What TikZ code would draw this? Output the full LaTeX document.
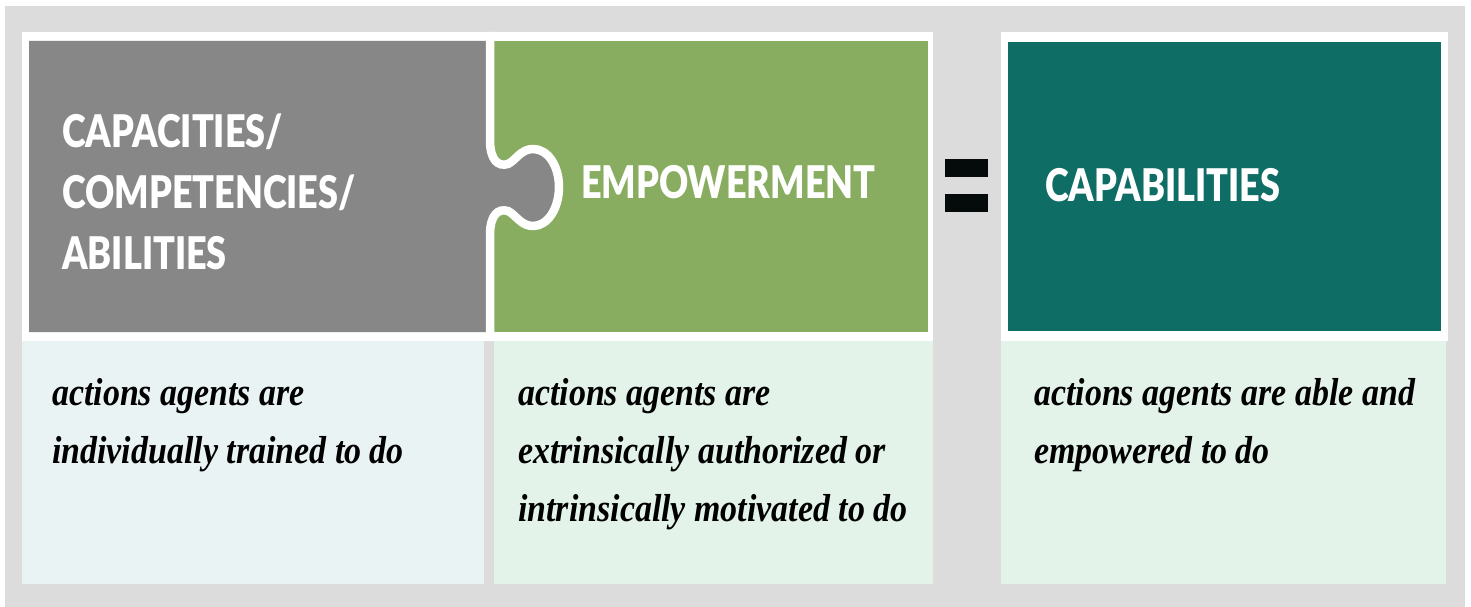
\documentclass[tikz,border=0pt]{standalone}
\usepackage{fontspec}
\newfontfamily\headfont[FakeStretch=0.8]{Lato Black}
\newfontfamily\bodyfont[FakeStretch=0.87]{Liberation Serif Bold Italic}
\definecolor{panelbg}{HTML}{DCDCDC}
\definecolor{capgray}{HTML}{878787}
\definecolor{empgreen}{HTML}{88AD60}
\definecolor{capteal}{HTML}{0E6E66}
\definecolor{noteblue}{HTML}{EAF3F4}
\definecolor{notegreen}{HTML}{E3F3EA}
\definecolor{eqblack}{HTML}{050A0A}
% multi-line nodes are placed by the baseline of their last line
\tikzset{
  head/.style={anchor=base west, inner sep=0pt, text=white, align=left,
    font={\headfont\fontsize{45}{61}\selectfont}},
  note/.style={anchor=base west, inner sep=0pt, text=black, align=left,
    font={\bodyfont\fontsize{39}{58}\selectfont}},
}
\begin{document}
\begin{tikzpicture}[x=1pt,y=-1pt]
\useasboundingbox (0,0) rectangle (1471,607);
% backdrop
\fill[panelbg] (5,6) rectangle (1465,607);
% white frames behind the top boxes
\fill[white] (22,32) rectangle (933,341);
\fill[white] (1001,32) rectangle (1448,341);
% green piece, then grey piece with its tab
\fill[empgreen] (490,41) rectangle (928,332);
\fill[capgray] (29,41) -- (490,41) -- (490,140)
  .. controls (490,160) and (498,167) .. (508,164)
  .. controls (516,160) and (521,149) .. (533,149)
  .. controls (548,149) and (559,166) .. (559,187)
  .. controls (559,208) and (548,226) .. (533,226)
  .. controls (521,226) and (516,215) .. (508,211)
  .. controls (498,208) and (490,215) .. (490,235)
  -- (490,332) -- (29,332) -- cycle;
% white seam between the two pieces
\draw[white, line width=8.5pt] (490,32) -- (490,140)
  .. controls (490,160) and (498,167) .. (508,164)
  .. controls (516,160) and (521,149) .. (533,149)
  .. controls (548,149) and (559,166) .. (559,187)
  .. controls (559,208) and (548,226) .. (533,226)
  .. controls (521,226) and (516,215) .. (508,211)
  .. controls (498,208) and (490,215) .. (490,235)
  -- (490,341);
% result box
\fill[capteal] (1008,42) rectangle (1441,331);
% description boxes
\fill[noteblue] (22,341) rectangle (484,584);
\fill[notegreen] (494,341) rectangle (933,584);
\fill[notegreen] (1001,341) rectangle (1446,584);
% equals sign
\fill[eqblack] (945,159) rectangle (988,177);
\fill[eqblack] (945,194) rectangle (988,212);
% headings
\node[head] (capacities) at (62,269) {CAPACITIES/\\COMPETENCIES/\\ABILITIES};
\node[head] (empowerment) at (581,198) {EMPOWERMENT};
\node[head] (capabilities) at (1045,201) {CAPABILITIES};
% descriptions
\node[note] (trained) at (52,463) {actions agents are\\individually trained to do};
\node[note] (authorized) at (518,521) {actions agents are\\extrinsically authorized or\\intrinsically motivated to do};
\node[note] (empowered) at (1034,463) {actions agents are able and\\empowered to do};
\end{tikzpicture}
\end{document}
